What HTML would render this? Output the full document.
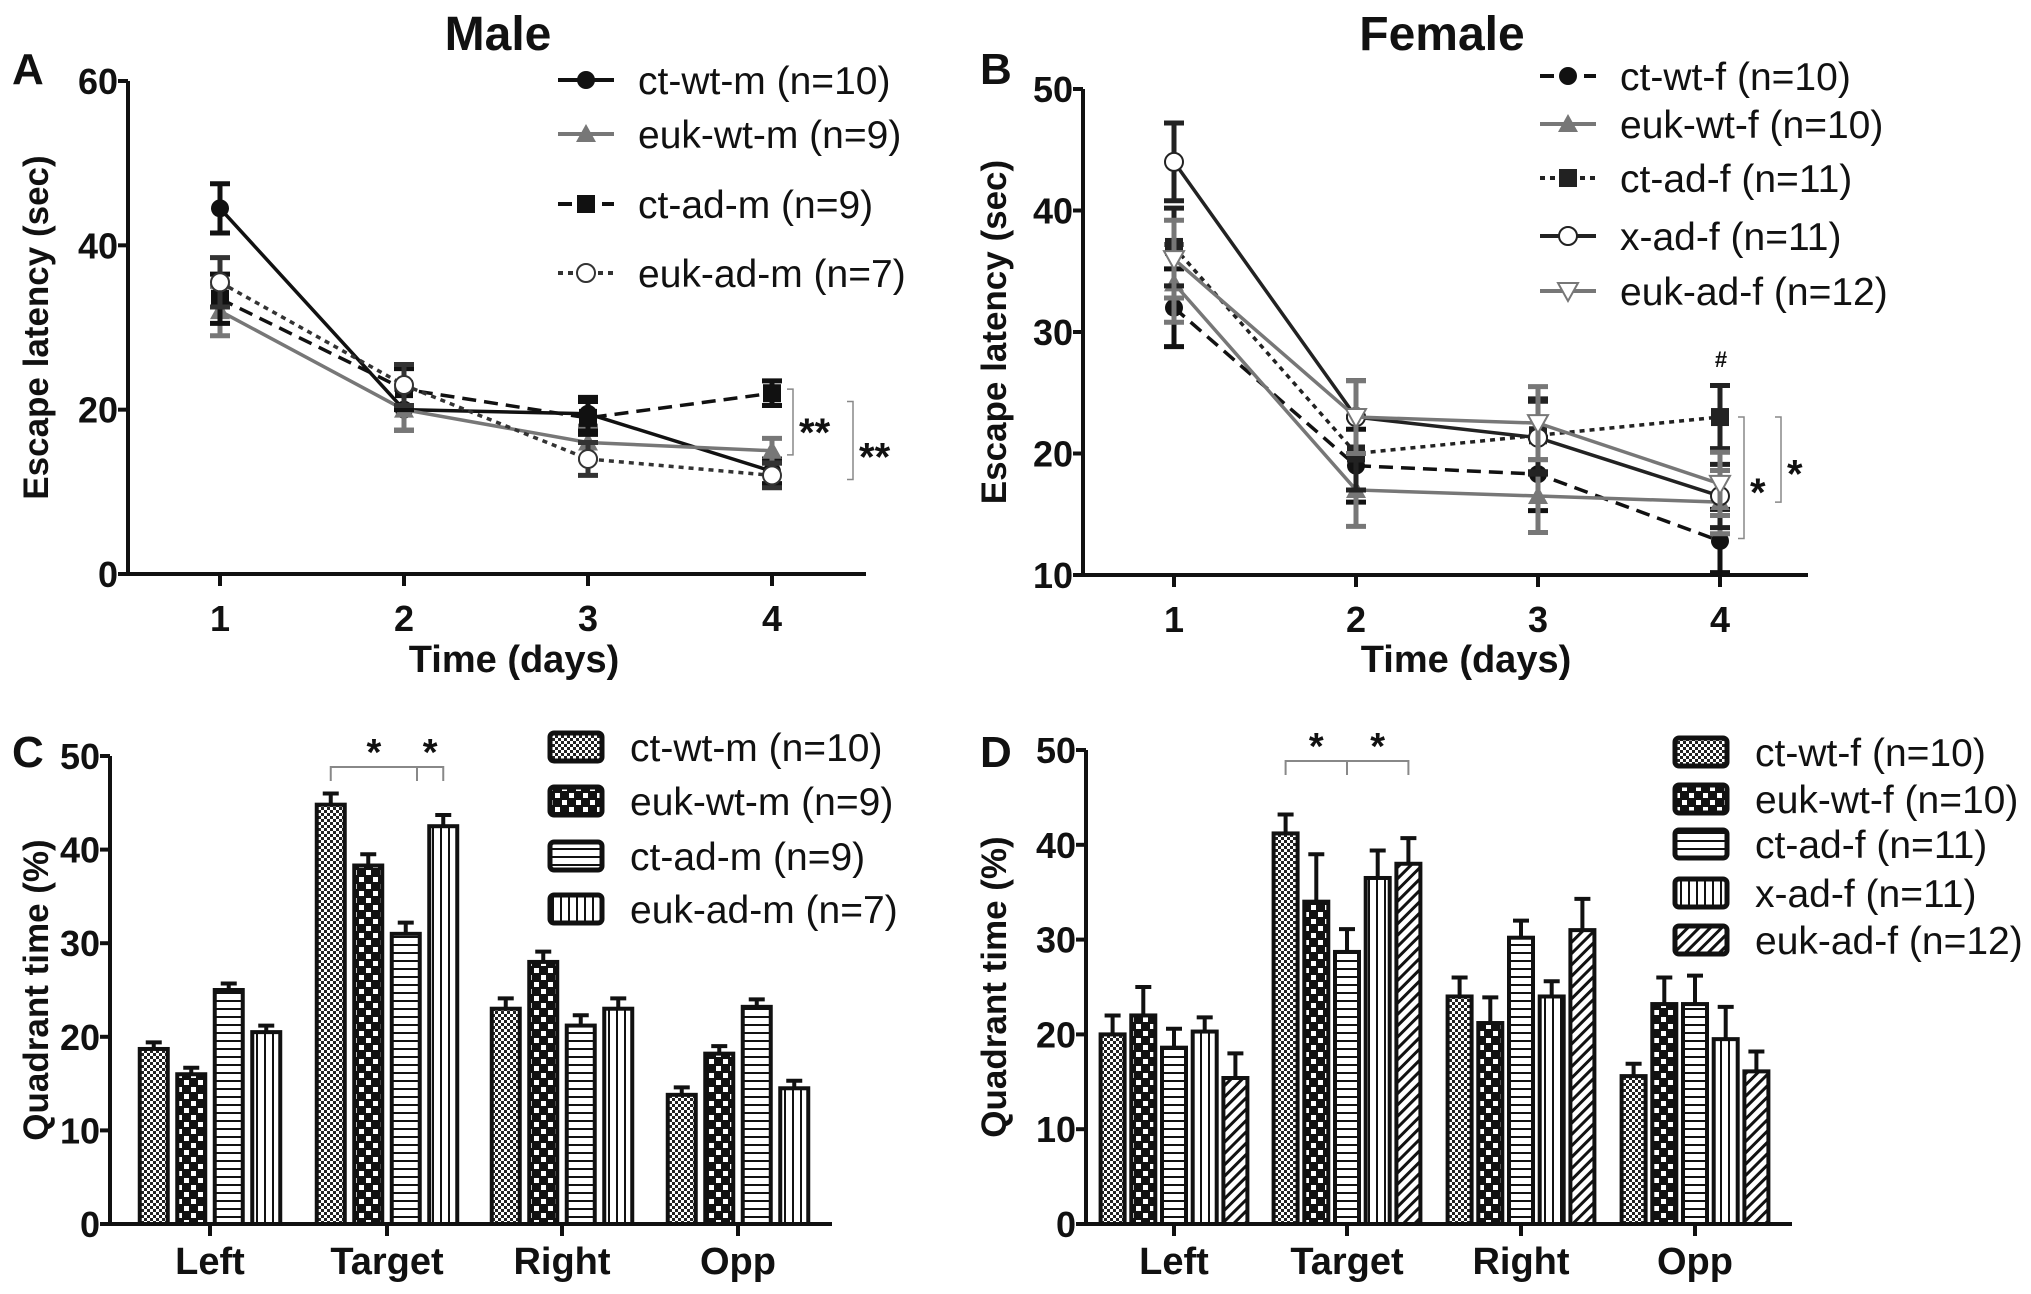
<!DOCTYPE html>
<html><head><meta charset="utf-8"><style>
html,body{margin:0;padding:0;background:#fff}
svg{display:block}
text{font-family:"Liberation Sans",Arial,sans-serif}
.t{font-weight:bold;fill:#111}
.lg{font-family:"Liberation Sans",sans-serif;font-size:39px;fill:#111}
</style></head><body>
<svg id="fig" width="2031" height="1294" viewBox="0 0 2031 1294" xmlns="http://www.w3.org/2000/svg">
<defs>
<pattern id="p0" width="6" height="6" patternUnits="userSpaceOnUse"><rect width="6" height="6" fill="#fff"/><rect width="3" height="3" fill="#222"/><rect x="3" y="3" width="3" height="3" fill="#222"/></pattern>
<pattern id="p1" width="14" height="14" patternUnits="userSpaceOnUse"><rect width="14" height="14" fill="#111"/><rect x="2" y="2" width="5" height="5" fill="#fff"/><rect x="9" y="9" width="5" height="5" fill="#fff"/></pattern>
<pattern id="p2" width="8" height="8" patternUnits="userSpaceOnUse"><rect width="8" height="8" fill="#fff"/><rect y="0" width="8" height="2" fill="#111"/></pattern>
<pattern id="p3" width="8" height="8" patternUnits="userSpaceOnUse"><rect width="8" height="8" fill="#fff"/><rect x="0" width="2" height="8" fill="#111"/></pattern>
<pattern id="p4" width="8" height="8" patternUnits="userSpaceOnUse" patternTransform="rotate(45)"><rect width="8" height="8" fill="#fff"/><rect width="3" height="8" fill="#111"/></pattern>
</defs>
<text class="t" x="498" y="50" font-size="48" text-anchor="middle">Male</text>
<text class="t" x="1442" y="50" font-size="48" text-anchor="middle">Female</text>
<text class="t" x="12" y="84" font-size="44">A</text>
<text class="t" x="980" y="84" font-size="44">B</text>
<text class="t" x="12" y="767" font-size="44">C</text>
<text class="t" x="980" y="767" font-size="44">D</text>
<g id="gA"></g>
<g id="gB"></g>
<g id="gC"></g>
<g id="gD"></g>
</svg>
<script>
// ---- Panel A data ----
const daysA = [1,2,3,4];
const aNames = ["ct-wt-m (n=10)","euk-wt-m (n=9)","ct-ad-m (n=9)","euk-ad-m (n=7)"];
const aCtWt = [44.5,20,19.5,12.5];
const aEukWt = [32,20,16,15];
const aCtAd = [33.5,22.5,19,22];
const aEukAd = [35.5,23,14,12];
const aErr = [3,2.5,2,1.5];
const aTicks = [0,20,40,60];
// ---- Panel B data ----
const bNames = ["ct-wt-f (n=10)","euk-wt-f (n=10)","ct-ad-f (n=11)","x-ad-f (n=11)","euk-ad-f (n=12)"];
const bCtWt = [32,19,18.3,12.8];
const bEukWt = [34,17,16.5,16];
const bCtAd = [37,20,21.5,23];
const bXAd = [44,23,21.3,16.5];
const bEukAd = [36,23,22.5,17.5];
const bErr = [3.2,3,3,2.6];
const bTicks = [10,20,30,40,50];
// ---- Panel C data ----
const quadrants = ["Left","Target","Right","Opp"];
const cCtWt = [18.7,44.8,23,13.8];
const cEukWt = [16,38.3,28,18.2];
const cCtAd = [25,31,21.2,23.2];
const cEukAd = [20.5,42.5,23,14.5];
const cErr = [0.7,1.2,1.1,0.8];
const cTicks = [0,10,20,30,40,50];
// ---- Panel D data ----
const dCtWt = [20,41.2,24,15.6];
const dEukWt = [22,34,21.2,23.2];
const dCtAd = [18.6,28.7,30.2,23.2];
const dXAd = [20.3,36.5,24,19.5];
const dEukAd = [15.4,38,31,16.1];
const dErr = [[2,2,2,1.3],[3,5,2.7,2.8],[2,2.4,1.8,3],[1.5,2.9,1.6,3.4],[2.6,2.7,3.3,2.1]];

const NS="http://www.w3.org/2000/svg";
function mk(parent,tag,attrs,txt){const e=document.createElementNS(NS,tag);for(const k in attrs)e.setAttribute(k,attrs[k]);if(txt!==undefined)e.textContent=txt;parent.appendChild(e);return e;}

function marker(g,type,x,y,col){
  let m;
  if(type==="circle")m=mk(g,"circle",{cx:x,cy:y,r:9,fill:col});
  else if(type==="ocircle")m=mk(g,"circle",{cx:x,cy:y,r:9,fill:"#fff",stroke:col,"stroke-width":2});
  else if(type==="square")m=mk(g,"rect",{x:x-9,y:y-9,width:18,height:18,fill:col});
  else if(type==="tri")m=mk(g,"polygon",{points:`${x},${y-10} ${x-10},${y+8} ${x+10},${y+8}`,fill:col});
  else m=mk(g,"polygon",{points:`${x},${y+10} ${x-10},${y-8} ${x+10},${y-8}`,fill:"#fff",stroke:col,"stroke-width":2});
  return m;
}

function lineChart(gid,o){
  const g=document.getElementById(gid);
  const X=d=>o.x0+(d-1)*o.dx, Y=v=>o.yb-(v-o.ymin)/(o.ymax-o.ymin)*(o.yb-o.yt);
  const ax=mk(g,"path",{d:`M${o.ax},${Y(o.ymax)}V${o.yb}H${o.axEnd}`,stroke:"#111","stroke-width":4,fill:"none"});
  
  
  o.ticks.forEach(t=>{
    mk(g,"line",{x1:o.ax-10,x2:o.ax,y1:Y(t),y2:Y(t),stroke:"#111","stroke-width":4});
    const tl=mk(g,"text",{x:o.ax-10,y:Y(t)+13,"font-size":36,"text-anchor":"end",class:"t"},t);
    
    
  });
  daysA.forEach(d=>{
    mk(g,"line",{x1:X(d),x2:X(d),y1:o.yb,y2:o.yb+12,stroke:"#111","stroke-width":4});
    const tl=mk(g,"text",{x:X(d),y:o.yb+57,"font-size":36,"text-anchor":"middle",class:"t"},d);
    
    
  });
  const yt=mk(g,"text",{transform:`translate(${o.ytx},${(o.yt+o.yb)/2}) rotate(-90)`,"font-size":35,"text-anchor":"middle",class:"t"},"Escape latency (sec)");
  
  
  const xt=mk(g,"text",{x:o.xtx,y:672,"font-size":38,"text-anchor":"middle",class:"t"},"Time (days)");
  
  
  o.series.forEach((s,i)=>{
    const sg=mk(g,"g",{});
    
    
    s.vals.forEach((v,j)=>{
      const e=o.err[j],x=X(daysA[j]);
      mk(sg,"path",{d:`M${x},${Y(v-e)}V${Y(v+e)}M${x-10},${Y(v-e)}H${x+10}M${x-10},${Y(v+e)}H${x+10}`,stroke:s.col,"stroke-width":5,fill:"none"});
    });
    const pts=s.vals.map((v,j)=>X(daysA[j])+","+Y(v)).join(" ");
    const pl=mk(sg,"polyline",{points:pts,fill:"none",stroke:s.col,"stroke-width":3.5,"stroke-dasharray":s.dash});
    
    
    s.vals.forEach((v,j)=>{const m=marker(sg,s.m,X(daysA[j]),Y(v),s.col);
      
      });
    const ly=o.legY[i];
    const lg=mk(g,"g",{});
    
    
    mk(lg,"line",{x1:o.legX-28,x2:o.legX+28,y1:ly,y2:ly,stroke:s.col,"stroke-width":4,"stroke-dasharray":s.dash});
    marker(lg,s.m,o.legX,ly,s.col);
    mk(lg,"text",{x:o.legX+52,y:ly+14,class:"lg"},o.names[i]);
  });
  (o.brackets||[]).forEach(b=>{
    mk(g,"path",{d:`M${b.x-6},${Y(b.a)}H${b.x}V${Y(b.b)}H${b.x-6}`,stroke:"#888","stroke-width":1.5,fill:"none"});
    const st=mk(g,"text",{x:b.x+6,y:(Y(b.a)+Y(b.b))/2+b.dy,"font-size":40,class:"t"},b.s);
    
    
  });
}

lineChart("gA",{x0:220,dx:184,ax:128,axEnd:866,yb:574,yt:81,ymin:0,ymax:60,ticks:aTicks,ytx:48,xtx:514,err:aErr,
  legX:586,legY:[80,134,204,273],names:aNames,
  series:[{key:"ct-wt-m",vals:aCtWt,col:"#111",m:"circle",dash:"none"},
          {key:"euk-wt-m",vals:aEukWt,col:"#777",m:"tri",dash:"none"},
          {key:"ct-ad-m",vals:aCtAd,col:"#111",m:"square",dash:"14,8"},
          {key:"euk-ad-m",vals:aEukAd,col:"#333",m:"ocircle",dash:"5,5"}],
  brackets:[{x:793,a:22.5,b:14.5,s:"**",dy:24},{x:853,a:21,b:11.5,s:"**",dy:30}]});
lineChart("gB",{x0:1174,dx:182,ax:1083,axEnd:1808,yb:575,yt:89,ymin:10,ymax:50,ticks:bTicks,ytx:1006,xtx:1466,err:bErr,
  legX:1568,legY:[76,124,178,236,291],names:bNames,
  series:[{key:"ct-wt-f",vals:bCtWt,col:"#111",m:"circle",dash:"14,8"},
          {key:"euk-wt-f",vals:bEukWt,col:"#777",m:"tri",dash:"none"},
          {key:"ct-ad-f",vals:bCtAd,col:"#222",m:"square",dash:"5,5"},
          {key:"x-ad-f",vals:bXAd,col:"#222",m:"ocircle",dash:"none"},
          {key:"euk-ad-f",vals:bEukAd,col:"#777",m:"itri",dash:"none"}],
  brackets:[{x:1744,a:23,b:13,s:"*",dy:28},{x:1781,a:23,b:16,s:"*",dy:28}]});
(function(){const g=document.getElementById("gB");const t=mk(g,"text",{x:1721,y:367,"font-size":22,"text-anchor":"middle",class:"t"},"#");
 })();

function barChart(gid,o){
  const g=document.getElementById(gid);
  const Y=v=>o.yb-v/50*(o.yb-o.yt);
  o.series.forEach((s,i)=>{
    s.vals.forEach((v,j)=>{
      const cx=o.cats[j]+(i-(o.series.length-1)/2)*o.sp, x=cx-o.bw/2, e=Array.isArray(o.err[0])?o.err[i][j]:o.err[j];
      mk(g,"path",{d:`M${cx},${Y(v)}V${Y(v+e)}M${cx-8},${Y(v+e)}H${cx+8}`,stroke:"#111","stroke-width":4});
      const r=mk(g,"rect",{x:x,y:Y(v),width:o.bw,height:o.yb-Y(v),fill:`url(#p${s.p})`,stroke:"#111","stroke-width":4});
      
      
    });
    const ly=o.legY[i];
    const lg=mk(g,"g",{});
    
    
    mk(lg,"rect",{x:o.legX,y:ly-14,width:52,height:28,rx:4,fill:`url(#p${s.p})`,stroke:"#111","stroke-width":5});
    mk(lg,"text",{x:o.legX+80,y:ly+14,class:"lg"},o.names[i]);
  });
  const ax=mk(g,"path",{d:`M${o.ax},${o.yt}V${o.yb}H${o.axEnd}`,stroke:"#111","stroke-width":4,fill:"none"});
  
  
  cTicks.forEach(t=>{
    mk(g,"line",{x1:o.ax-10,x2:o.ax,y1:Y(t),y2:Y(t),stroke:"#111","stroke-width":4});
    const tl=mk(g,"text",{x:o.ax-10,y:Y(t)+13,"font-size":36,"text-anchor":"end",class:"t"},t);
    
    
  });
  quadrants.forEach((q,j)=>{
    mk(g,"line",{x1:o.cats[j],x2:o.cats[j],y1:o.yb,y2:o.yb+12,stroke:"#111","stroke-width":4});
    const tl=mk(g,"text",{x:o.cats[j],y:1274,"font-size":38,"text-anchor":"middle",class:"t"},q);
    
    
  });
  const yt=mk(g,"text",{transform:`translate(${o.ytx},${(o.yt+o.yb)/2}) rotate(-90)`,"font-size":35,"text-anchor":"middle",class:"t"},"Quadrant time (%)");
  
  
  const c=o.cats[1],n=o.series.length,b0=c+(0-(n-1)/2)*o.sp,b1=c+(o.bMid-(n-1)/2)*o.sp,b2=c+(o.bEnd-(n-1)/2)*o.sp,by=o.yt+11;
  mk(g,"path",{d:`M${b0},${by+14}V${by}H${b2}V${by+14}M${b1},${by}V${by+14}`,stroke:"#888","stroke-width":2,fill:"none"});
  [(b0+b1)/2,(b1+b2)/2].forEach(x=>{const st=mk(g,"text",{x:x,y:by-2,"font-size":38,"text-anchor":"middle",class:"t"},"*");
    });
}
barChart("gC",{cats:[210,387,562,738],sp:37.5,bw:28,ax:110,axEnd:832,yb:1224,yt:756,ytx:48,err:cErr,legX:550,legY:[747,801,856,909],
  names:aNames,bMid:2.3,bEnd:3,
  series:[{key:"ct-wt-m",vals:cCtWt,p:0},{key:"euk-wt-m",vals:cEukWt,p:1},{key:"ct-ad-m",vals:cCtAd,p:2},{key:"euk-ad-m",vals:cEukAd,p:3}]});
barChart("gD",{cats:[1174,1347,1521,1695],sp:30.7,bw:24,ax:1086,axEnd:1792,yb:1224,yt:750,ytx:1006,err:dErr,legX:1675,legY:[752,799,844,893,940],
  names:bNames,bMid:2,bEnd:4,
  series:[{key:"ct-wt-f",vals:dCtWt,p:0},{key:"euk-wt-f",vals:dEukWt,p:1},{key:"ct-ad-f",vals:dCtAd,p:2},{key:"x-ad-f",vals:dXAd,p:3},{key:"euk-ad-f",vals:dEukAd,p:4}]});
</script>
</body></html>
